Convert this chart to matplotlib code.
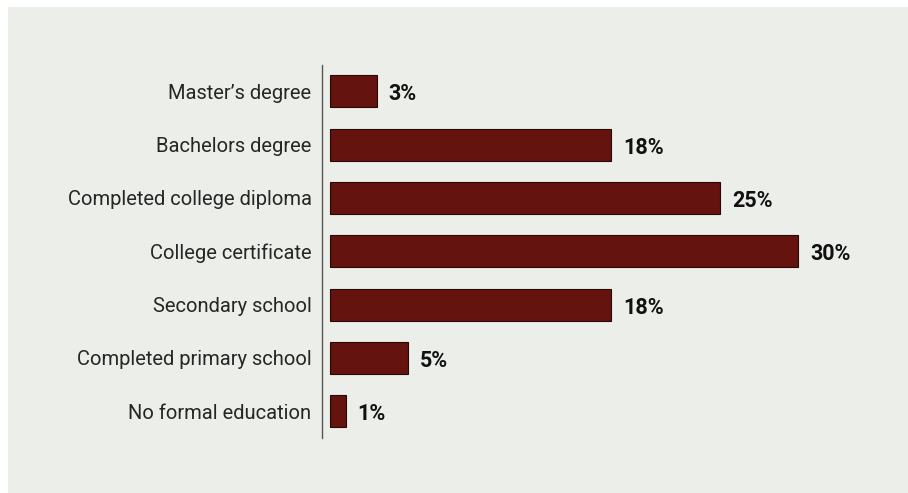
import matplotlib
matplotlib.use("Agg")
import matplotlib.pyplot as plt
from matplotlib.patches import Rectangle

categories = ["Master\u2019s degree", "Bachelors degree", "Completed college diploma",
              "College certificate", "Secondary school", "Completed primary school",
              "No formal education"]
values = [3, 18, 25, 30, 18, 5, 1]

BG = "#eceee9"
BAR = "#65130f"

plt.rcParams['font.family'] = ['Roboto', 'DejaVu Sans']

W, H = 908, 493
fig = plt.figure(figsize=(W/100, H/100), dpi=100)
fig.patch.set_facecolor("white")
fig.patches.append(Rectangle((8/W, 0), 1 - 8/W, 1 - 7/H, transform=fig.transFigure,
                             facecolor=BG, edgecolor="none", zorder=-10))

ax_left, ax_right = 322, 880
ax_top, ax_bot = 65, 438
ax = fig.add_axes([ax_left/W, 1 - ax_bot/H, (ax_right-ax_left)/W, (ax_bot-ax_top)/H])
ax.set_facecolor("none")

px_per = 15.6
x0 = -(330 - 322) / px_per
ax.set_xlim(x0, x0 + (ax_right - ax_left) / px_per)

ypos = list(range(len(categories)))
ax.barh(ypos, values, height=0.6, color=BAR, edgecolor="#2a0806", linewidth=0.8, left=0)
ax.set_ylim(6.5, -0.49)

for y, v in zip(ypos, values):
    ax.annotate(f"{v}%", xy=(v, y), xytext=(12, -3), textcoords="offset pixels",
                va="center", ha="left", fontsize=15.5, fontweight="bold", color="#111111")

ax.set_yticks(ypos)
ax.set_yticklabels(categories, fontsize=14.5, color="#262626")
ax.tick_params(axis='y', length=0, pad=7.5)
ax.set_xticks([])
for s in ["top", "right", "bottom"]:
    ax.spines[s].set_visible(False)
ax.spines["left"].set_color("#555555")
ax.spines["left"].set_linewidth(1.0)

fig.savefig("out.png", dpi=100, facecolor=fig.get_facecolor())
